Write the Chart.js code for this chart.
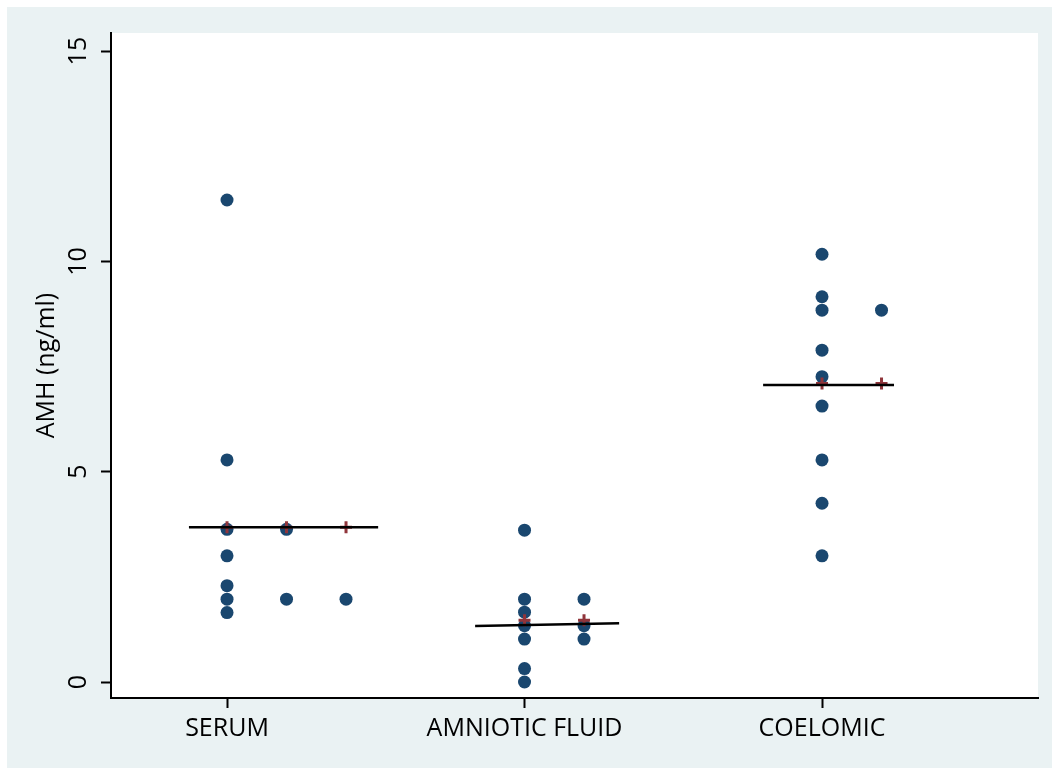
<!DOCTYPE html>
<html>
<head>
<meta charset="utf-8">
<script src="https://cdn.jsdelivr.net/npm/chart.js@4/dist/chart.umd.min.js"></script>
<style>
  html, body { margin: 0; padding: 0; background: #fff; }
  #wrap { width: 1052px; height: 768px; }
</style>
</head>
<body>
<div id="wrap"><canvas id="amhChart" width="1052" height="768"></canvas></div>
<script>
// categories on the x axis
const categories = ['SERUM', 'AMNIOTIC FLUID', 'COELOMIC'];
const yTicks = [0, 5, 10, 15];

// AMH values (ng/ml), one inner array per dot column of the dotplot
const serumCols = [[11.46, 5.28, 3.63, 3.0, 2.29, 1.97, 1.65], [3.63, 1.97], [1.97]];
const amnioticCols = [[3.61, 1.97, 1.66, 1.34, 1.02, 0.32, 0], [1.97, 1.34, 1.02]];
const coelomicCols = [[10.17, 9.16, 8.84, 7.89, 7.26, 6.56, 5.28, 4.25, 3.0], [8.84]];

// group means (red +) and the black summary lines
const groupMeans = [3.68, 1.47, 7.10];
const lineStartX = [0.872, 1.834, 2.802];
const lineEndX = [1.508, 2.318, 3.242];
const lineStartY = [3.68, 1.33, 7.06];
const lineEndY = [3.68, 1.40, 7.06];

const colStep = 0.2;
const FONT = "'Open Sans', 'DejaVu Sans', sans-serif";

function buildData() {
    const groups = [serumCols, amnioticCols, coelomicCols];
    const dots = [], pluses = [], lines = [];
    groups.forEach((cols, g) => {
        cols.forEach((col, c) => {
            const x = g + 1 + c * colStep;
            col.forEach(v => dots.push({ x, y: v }));
            pluses.push({ x, y: groupMeans[g] });
        });
        lines.push({
            type: 'line',
            data: [{ x: lineStartX[g], y: lineStartY[g] }, { x: lineEndX[g], y: lineEndY[g] }],
            borderColor: '#000',
            borderWidth: 2.5,
            pointRadius: 0,
            fill: false,
            order: 0
        });
    });
    return [
        { type: 'scatter', data: dots, backgroundColor: '#1a476f', borderWidth: 0, pointRadius: 6.5, order: 2 },
        { type: 'scatter', data: pluses, pointStyle: 'cross', borderColor: '#90353b', borderWidth: 3, pointRadius: 6, order: 1 },
        ...lines
    ];
}

// background panels + rotated y labels, stata style
const stataLook = {
    id: 'stataLook',
    beforeDraw(chart) {
        const { ctx, chartArea: a } = chart;
        ctx.save();
        ctx.fillStyle = '#ffffff';
        ctx.fillRect(0, 0, chart.width, chart.height);
        ctx.fillStyle = '#eaf2f3';
        ctx.fillRect(7, 7, chart.width - 7, chart.height - 7);
        ctx.fillStyle = '#ffffff';
        ctx.fillRect(a.left, a.top, a.right - a.left, a.bottom - a.top);
        ctx.restore();
    },
    afterDraw(chart) {
        const { ctx, scales: { y }, chartArea: a } = chart;
        ctx.save();
        ctx.fillStyle = '#000';
        ctx.textAlign = 'center';
        ctx.textBaseline = 'middle';
        ctx.font = '25px ' + FONT;
        yTicks.forEach(t => {
            ctx.save();
            ctx.translate(79, y.getPixelForValue(t));
            ctx.rotate(-Math.PI / 2);
            ctx.fillText(String(t), 0, 0);
            ctx.restore();
        });
        ctx.translate(47, (a.top + a.bottom) / 2);
        ctx.rotate(-Math.PI / 2);
        ctx.fillText('AMH (ng/ml)', 0, 0);
        ctx.restore();
    }
};

new Chart(document.getElementById('amhChart'), {
    type: 'scatter',
    data: { datasets: buildData() },
    options: {
        responsive: false,
        animation: false,
        layout: { padding: { left: 7, top: 33, right: 14, bottom: 0 } },
        plugins: { legend: { display: false }, tooltip: { enabled: false } },
        scales: {
            x: {
                type: 'linear',
                min: 0.61,
                max: 3.726,
                afterBuildTicks: s => { s.ticks = [1, 2, 3].map(v => ({ value: v })); },
                afterFit: s => { s.height = 70; },
                grid: { drawOnChartArea: false, drawTicks: true, tickLength: 10, tickWidth: 2, tickColor: '#000' },
                border: { display: true, color: '#000', width: 2 },
                ticks: {
                    autoSkip: false,
                    maxRotation: 0,
                    padding: 6,
                    color: '#000',
                    font: { family: FONT, size: 25 },
                    callback: v => categories[v - 1] || ''
                }
            },
            y: {
                type: 'linear',
                min: -0.38,
                max: 15.43,
                afterBuildTicks: s => { s.ticks = yTicks.map(v => ({ value: v })); },
                afterFit: s => { s.width = 104; },
                grid: { drawOnChartArea: false, drawTicks: true, tickLength: 10, tickWidth: 2, tickColor: '#000' },
                border: { display: true, color: '#000', width: 2 },
                ticks: { callback: () => '' }
            }
        }
    },
    plugins: [stataLook]
});
</script>
</body>
</html>
